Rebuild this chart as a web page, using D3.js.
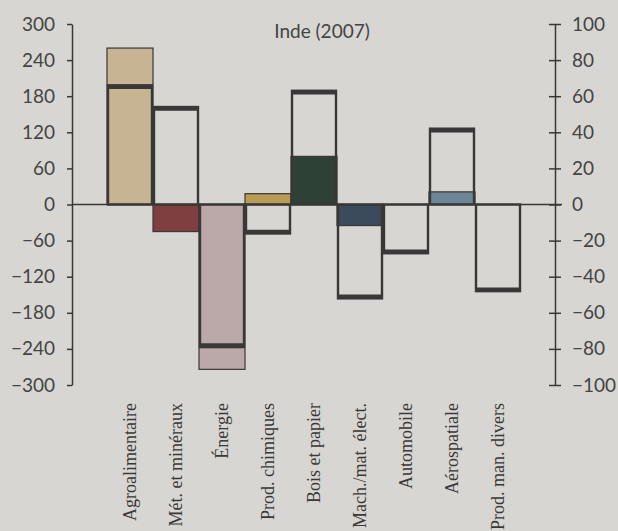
<!DOCTYPE html>
<html>
<head>
<meta charset="utf-8">
<script src="https://cdn.jsdelivr.net/npm/d3@7"></script>
<style>
  body { margin: 0; background: #d7d6d2; }
  svg { display: block; }
</style>
</head>
<body>
<div id="chart"></div>
<script>
// données
const categories = ["Agroalimentaire", "Mét. et minéraux", "Énergie", "Prod. chimiques",
  "Bois et papier", "Mach./mat. élect.", "Automobile", "Aérospatiale", "Prod. man. divers"];
// barres pleines (axe de gauche)
const soldes = [260, -45, -274, 18, 80, -35, 0, 21, 0];
// barres vides (axe de droite)
const indices = [66, 54, -79, -16, 63, -52, -27, 42, -48];
const couleurs = ["#c6b493", "#7f3e3f", "#bba9aa", "#b89c56", "#2e4137", "#3b4b5c", "#999", "#6c8697", "#999"];
const ticksGauche = [-300, -240, -180, -120, -60, 0, 60, 120, 180, 240, 300];
const ticksDroite = [-100, -80, -60, -40, -20, 0, 20, 40, 60, 80, 100];

(function () {
    const width = 618, height = 531;
    const ink = "#3a3836";

    const svg = d3.select("#chart").append("svg")
        .attr("width", width)
        .attr("height", height)
        .style("background", "#d7d6d2");

    const x = d3.scaleBand().domain(categories).range([107, 521]).padding(0);
    const yL = d3.scaleLinear().domain([-300, 300]).range([385, 24]);
    const yR = d3.scaleLinear().domain([-100, 100]).range([385, 24]);

    // titre
    svg.append("text")
        .attr("x", 322).attr("y", 38)
        .attr("text-anchor", "middle")
        .style("font", "19px Lato, sans-serif")
        .attr("fill", "#444")
        .text("Inde (2007)");

    // barres pleines
    svg.append("g")
        .selectAll("rect")
        .data(categories)
        .join("rect")
        .attr("x", d => x(d))
        .attr("width", x.bandwidth())
        .attr("y", (d, i) => Math.min(yL(soldes[i]), yL(0)))
        .attr("height", (d, i) => Math.abs(yL(soldes[i]) - yL(0)))
        .attr("fill", (d, i) => couleurs[i])
        .attr("stroke", ink)
        .attr("stroke-width", (d, i) => soldes[i] === 0 ? 0 : 1.2);

    // barres vides
    const g = svg.append("g");
    g.selectAll("rect")
        .data(categories)
        .join("rect")
        .attr("x", d => x(d) + 1)
        .attr("width", x.bandwidth() - 2)
        .attr("y", (d, i) => Math.min(yR(indices[i]), yR(0)))
        .attr("height", (d, i) => Math.abs(yR(indices[i]) - yR(0)))
        .attr("fill", "none")
        .attr("stroke", ink)
        .attr("stroke-width", 2.4);
    g.selectAll("line")
        .data(categories)
        .join("line")
        .attr("x1", d => x(d))
        .attr("x2", d => x(d) + x.bandwidth())
        .attr("y1", (d, i) => yR(indices[i]) + (indices[i] > 0 ? 1.5 : -1.5))
        .attr("y2", (d, i) => yR(indices[i]) + (indices[i] > 0 ? 1.5 : -1.5))
        .attr("stroke", ink)
        .attr("stroke-width", 4.5);

    // ligne zéro
    svg.append("line")
        .attr("x1", 72).attr("x2", 562)
        .attr("y1", yL(0)).attr("y2", yL(0))
        .attr("stroke", ink)
        .attr("stroke-width", 1.5);

    // axe de gauche
    const axL = svg.append("g")
        .attr("transform", "translate(72,0)")
        .call(d3.axisLeft(yL).tickValues(ticksGauche).tickSize(5).tickPadding(12).tickSizeOuter(0));
    axL.select(".domain").attr("stroke", ink).attr("stroke-width", 1.5);
    axL.selectAll(".tick line").attr("stroke", ink).attr("stroke-width", 1.5);
    axL.selectAll(".tick text")
        .style("font", "19px Lato, sans-serif")
        .attr("fill", "#444");

    // axe de droite
    const axR = svg.append("g")
        .attr("transform", "translate(555,0)")
        .call(d3.axisRight(yR).tickValues(ticksDroite).tickSize(6).tickPadding(11).tickSizeOuter(0));
    axR.select(".domain").attr("stroke", ink).attr("stroke-width", 1.5);
    axR.selectAll(".tick line").attr("x1", -6).attr("stroke", ink).attr("stroke-width", 1.5);
    axR.selectAll(".tick text")
        .style("font", "19px Lato, sans-serif")
        .attr("fill", "#444");

    // étiquettes des catégories
    svg.append("g")
        .selectAll("text")
        .data(categories)
        .join("text")
        .attr("transform", d => `translate(${x(d) + x.bandwidth() / 2 + 6},403) rotate(-90)`)
        .attr("text-anchor", "end")
        .style("font", "18px 'Liberation Serif', serif")
        .attr("fill", "#3a3836")
        .text(d => d);
})();
</script>
</body>
</html>
